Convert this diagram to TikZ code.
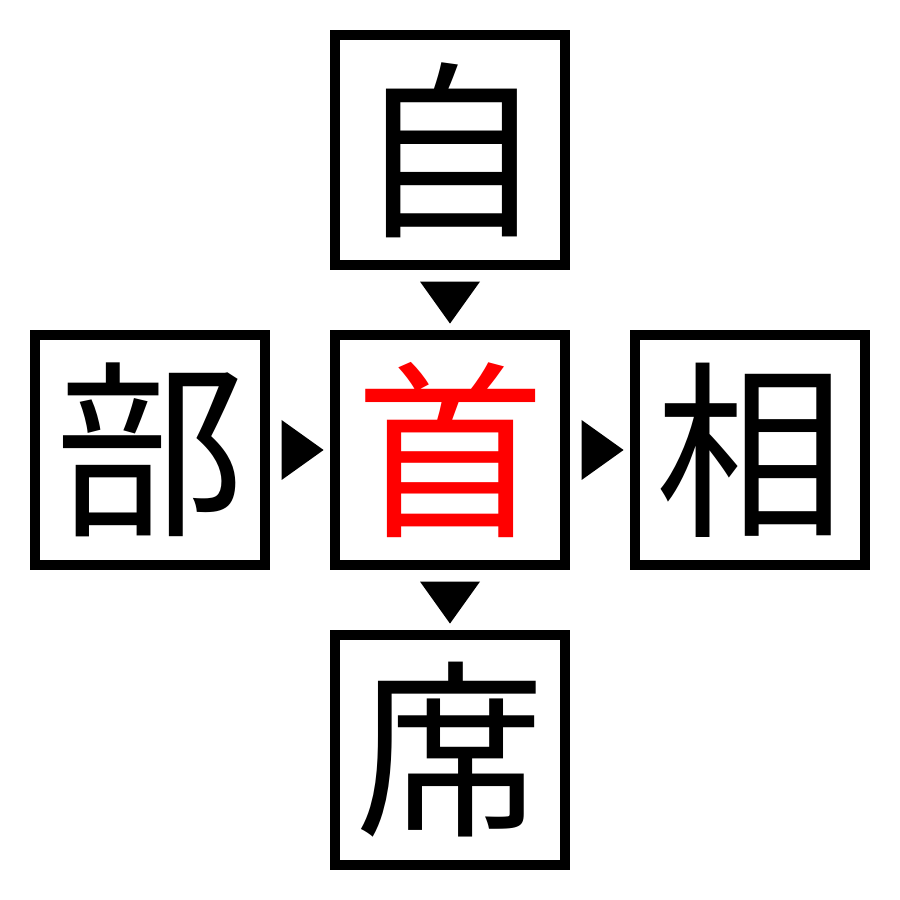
\documentclass[tikz,border=0pt]{standalone}
\usepackage{fontspec}
\newfontfamily\cjk{Noto Sans CJK JP}
\usetikzlibrary{positioning,shapes.geometric}

\begin{document}
\begin{tikzpicture}[
  node distance=3cm, on grid,
  kanji/.style={draw, line width=0.1cm, minimum size=2.3cm, inner sep=0pt,
    font=\cjk\fontsize{54pt}{54pt}\selectfont},
  tri/.style={fill=black, isosceles triangle, isosceles triangle stretches,
    minimum width=0.6cm, minimum height=0.42cm, inner sep=0pt, outer sep=0pt,
    anchor=center}
]
\useasboundingbox (0,0) rectangle (9,9);
\node[kanji, text=red] (shou) at (4.5, 4.5) {首};
\node[kanji, above=of shou] (zi) {自};
\node[kanji, below=of shou] (xi) {席};
\node[kanji, left=of shou] (bu) {部};
\node[kanji, right=of shou] (xiang) {相};
% triangles between the boxes
\path (zi) -- (shou) node[tri, pos=0.5, rotate=-90, xshift=-0.03cm] {};
\path (shou) -- (xi) node[tri, pos=0.5, rotate=-90, xshift=-0.03cm] {};
\path (bu) -- (shou) node[tri, pos=0.5, xshift=-0.03cm] {};
\path (shou) -- (xiang) node[tri, pos=0.5, xshift=-0.03cm] {};
\end{tikzpicture}
\end{document}
